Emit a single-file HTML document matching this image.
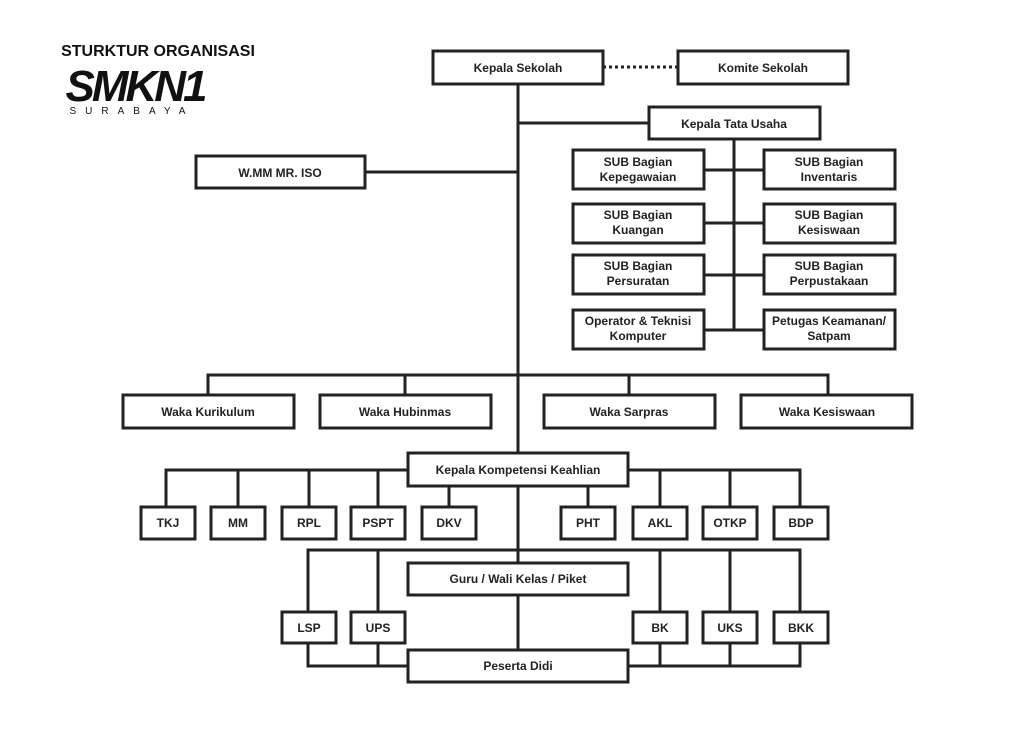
<!DOCTYPE html>
<html><head><meta charset="utf-8"><style>
html,body{margin:0;padding:0;background:#fff;}
svg text{font-family:"Liberation Sans",sans-serif;font-size:12px;font-weight:bold;fill:#222;text-anchor:middle;}
</style></head><body>
<svg width="1024" height="724" viewBox="0 0 1024 724" xmlns="http://www.w3.org/2000/svg">
<g stroke="#222" stroke-width="3" fill="none">
<!-- main vertical -->
<line x1="518" y1="84" x2="518" y2="563"/>
<line x1="518" y1="595" x2="518" y2="650"/>
<line x1="603" y1="67" x2="678" y2="67" stroke-dasharray="3,3"/>
<line x1="518" y1="123" x2="649" y2="123"/>
<line x1="365" y1="172" x2="518" y2="172"/>
<line x1="734" y1="139" x2="734" y2="330"/>
<line x1="704" y1="170" x2="764" y2="170"/>
<line x1="704" y1="223" x2="764" y2="223"/>
<line x1="704" y1="275" x2="764" y2="275"/>
<line x1="704" y1="330" x2="764" y2="330"/>
<!-- waka -->
<polyline points="208,395 208,375 828,375 828,395"/>
<line x1="405" y1="375" x2="405" y2="395"/>
<line x1="629" y1="375" x2="629" y2="395"/>
<!-- kompetensi -->
<polyline points="166,507 166,470 408,470"/>
<polyline points="628,470 800,470 800,507"/>
<line x1="238" y1="470" x2="238" y2="507"/>
<line x1="309" y1="470" x2="309" y2="507"/>
<line x1="378" y1="470" x2="378" y2="507"/>
<line x1="449" y1="486" x2="449" y2="507"/>
<line x1="588" y1="486" x2="588" y2="507"/>
<line x1="660" y1="470" x2="660" y2="507"/>
<line x1="730" y1="470" x2="730" y2="507"/>
<!-- lower -->
<polyline points="308,612 308,550 800,550 800,612"/>
<line x1="378" y1="550" x2="378" y2="612"/>
<line x1="660" y1="550" x2="660" y2="612"/>
<line x1="730" y1="550" x2="730" y2="612"/>
<polyline points="308,643 308,666 408,666"/>
<line x1="378" y1="643" x2="378" y2="666"/>
<polyline points="800,643 800,666 628,666"/>
<line x1="660" y1="643" x2="660" y2="666"/>
<line x1="730" y1="643" x2="730" y2="666"/>
</g>
<g stroke="#222" stroke-width="3" fill="#fff">
<rect x="433" y="51" width="170" height="33"/>
<rect x="678" y="51" width="170" height="33"/>
<rect x="649" y="107" width="171" height="32"/>
<rect x="196" y="156" width="169" height="32"/>
<rect x="573" y="150" width="131" height="39"/><rect x="764" y="150" width="131" height="39"/>
<rect x="573" y="204" width="131" height="39"/><rect x="764" y="204" width="131" height="39"/>
<rect x="573" y="255" width="131" height="39"/><rect x="764" y="255" width="131" height="39"/>
<rect x="573" y="310" width="131" height="39"/><rect x="764" y="310" width="131" height="39"/>
<rect x="123" y="395" width="171" height="33"/>
<rect x="320" y="395" width="171" height="33"/>
<rect x="544" y="395" width="171" height="33"/>
<rect x="741" y="395" width="171" height="33"/>
<rect x="408" y="453" width="220" height="33"/>
<rect x="141" y="507" width="54" height="32"/>
<rect x="211" y="507" width="54" height="32"/>
<rect x="282" y="507" width="54" height="32"/>
<rect x="351" y="507" width="54" height="32"/>
<rect x="422" y="507" width="54" height="32"/>
<rect x="561" y="507" width="54" height="32"/>
<rect x="633" y="507" width="54" height="32"/>
<rect x="703" y="507" width="54" height="32"/>
<rect x="774" y="507" width="54" height="32"/>
<rect x="408" y="563" width="220" height="32"/>
<rect x="282" y="612" width="54" height="31"/>
<rect x="351" y="612" width="54" height="31"/>
<rect x="633" y="612" width="54" height="31"/>
<rect x="703" y="612" width="54" height="31"/>
<rect x="774" y="612" width="54" height="31"/>
<rect x="408" y="650" width="220" height="32"/>
</g>
<text x="518" y="72">Kepala Sekolah</text>
<text x="763" y="72">Komite Sekolah</text>
<text x="734" y="128">Kepala Tata Usaha</text>
<text x="280" y="177">W.MM MR. ISO</text>
<text x="638" y="166">SUB Bagian</text><text x="638" y="181">Kepegawaian</text>
<text x="829" y="166">SUB Bagian</text><text x="829" y="181">Inventaris</text>
<text x="638" y="219">SUB Bagian</text><text x="638" y="234">Kuangan</text>
<text x="829" y="219">SUB Bagian</text><text x="829" y="234">Kesiswaan</text>
<text x="638" y="270">SUB Bagian</text><text x="638" y="285">Persuratan</text>
<text x="829" y="270">SUB Bagian</text><text x="829" y="285">Perpustakaan</text>
<text x="638" y="325">Operator &amp; Teknisi</text><text x="638" y="340">Komputer</text>
<text x="829" y="325">Petugas Keamanan/</text><text x="829" y="340">Satpam</text>
<text x="208" y="416">Waka Kurikulum</text>
<text x="405" y="416">Waka Hubinmas</text>
<text x="629" y="416">Waka Sarpras</text>
<text x="827" y="416">Waka Kesiswaan</text>
<text x="518" y="474">Kepala Kompetensi Keahlian</text>
<text x="168" y="527">TKJ</text><text x="238" y="527">MM</text><text x="309" y="527">RPL</text>
<text x="378" y="527">PSPT</text><text x="449" y="527">DKV</text><text x="588" y="527">PHT</text>
<text x="660" y="527">AKL</text><text x="730" y="527">OTKP</text><text x="801" y="527">BDP</text>
<text x="518" y="583">Guru / Wali Kelas / Piket</text>
<text x="309" y="632">LSP</text><text x="378" y="632">UPS</text><text x="660" y="632">BK</text>
<text x="730" y="632">UKS</text><text x="801" y="632">BKK</text>
<text x="518" y="670">Peserta Didi</text>
<text x="158" y="56" style="font-size:16px;font-weight:bold;fill:#111;">STURKTUR ORGANISASI</text>
<text x="135" y="101" style="font-size:44px;font-weight:bold;font-style:italic;fill:#111;letter-spacing:-3px;">SMKN1</text>
<text x="132" y="114" style="font-size:10px;font-weight:normal;fill:#111;letter-spacing:9px;">SURABAYA</text>
</svg>
</body></html>
